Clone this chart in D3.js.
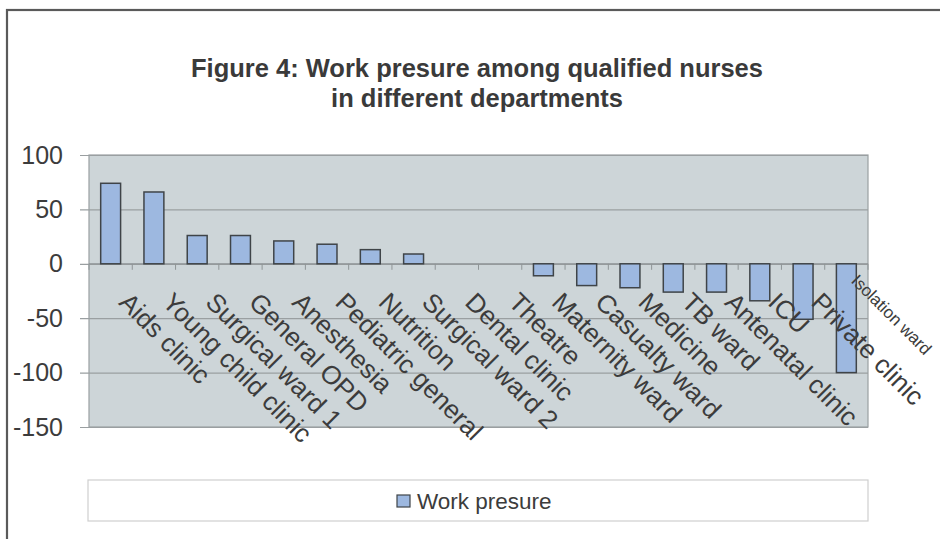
<!DOCTYPE html>
<html>
<head>
<meta charset="utf-8">
<script src="https://cdn.jsdelivr.net/npm/d3@7/dist/d3.min.js"></script>
<style>
  html, body { margin: 0; padding: 0; background: #ffffff; }
  svg { display: block; }
  text { font-family: "Liberation Sans", Arial, sans-serif; fill: #3c3c3c; }
</style>
</head>
<body>
<svg id="chart" width="940" height="539"></svg>
<script>
const titleLines = ["Figure 4: Work presure among qualified nurses", "in different departments"];
const categories = ["Aids clinic", "Young child clinic", "Surgical ward 1", "General OPD", "Anesthesia",
  "Pediatric general", "Nutrition", "Surgical ward 2", "Dental clinic", "Theatre", "Maternity ward",
  "Casualty ward", "Medicine", "TB ward", "Antenatal clinic", "ICU", "Private clinic", "Isolation ward"];
const values = [74, 66, 26, 26, 21, 18, 13, 9, 0, 0, -11, -20, -22, -26, -26, -34, -51, -100];
const yTicks = [100, 50, 0, -50, -100, -150];
const seriesName = "Work presure";

const svg = d3.select("#chart");

// outer frame
svg.append("rect").attr("x", 7).attr("y", 10).attr("width", 960).attr("height", 560)
  .attr("fill", "#ffffff").attr("stroke", "#5a5a5a").attr("stroke-width", 2.2);

// title
const title = svg.append("text").attr("text-anchor", "middle")
  .style("font-size", "25.5px").style("font-weight", "bold").style("fill", "#3a3a3a");
titleLines.forEach((t, i) => {
  title.append("tspan").attr("x", 477).attr("y", 77 + i * 30).text(t);
});

const pL = 89, pR = 868, pT = 155, pB = 427;
const x = d3.scaleBand().domain(categories).range([pL, pR]).paddingInner(0.54).paddingOuter(0.27);
const y = d3.scaleLinear().domain([-150, 100]).range([pB, pT]);

// plot background
svg.append("rect").attr("x", pL).attr("y", pT).attr("width", pR - pL).attr("height", pB - pT)
  .attr("fill", "#cdd5d8").attr("stroke", "#9aa0a2").attr("stroke-width", 1.2);

// y axis with gridlines
const yAxis = d3.axisLeft(y).tickValues(yTicks).tickSize(-(pR - pL)).tickPadding(26)
  .tickFormat(d => String(d));
const yg = svg.append("g").attr("transform", `translate(${pL},0)`).call(yAxis);
yg.select(".domain").remove();
yg.selectAll(".tick line").attr("x1", -9).attr("stroke", "#9a9fa1").attr("stroke-width", 1.2);
yg.selectAll(".tick text").style("font-size", "25px").style("font-family", "Liberation Sans, Arial, sans-serif")
  .style("fill", "#3c3c3c").attr("x", -26);

// category axis at zero
const step = x.step();
const xAxisG = svg.append("g");
xAxisG.append("line").attr("x1", pL).attr("x2", pR).attr("y1", y(0)).attr("y2", y(0))
  .attr("stroke", "#8f9597").attr("stroke-width", 1.2);
d3.range(categories.length + 1).forEach(k => {
  xAxisG.append("line").attr("x1", pL + k * step).attr("x2", pL + k * step)
    .attr("y1", y(0)).attr("y2", y(0) + 6).attr("stroke", "#8f9597").attr("stroke-width", 1);
});

// bars
svg.append("g").selectAll("rect").data(values.map((v, i) => ({ v, c: categories[i] })).filter(d => d.v !== 0))
  .join("rect")
  .attr("x", d => x(d.c))
  .attr("width", x.bandwidth())
  .attr("y", d => y(Math.max(0, d.v)))
  .attr("height", d => Math.abs(y(d.v) - y(0)))
  .attr("fill", "#9db8e0").attr("stroke", "#3f4448").attr("stroke-width", 1.5);

// rotated category labels
const last = categories.length - 1;
svg.append("g").selectAll("text").data(categories).join("text")
  .attr("transform", (d, i) => {
    const cx = x(d) + x.bandwidth() / 2;
    return i === last ? `translate(${cx + 4},${y(0) + 18}) rotate(45)`
                      : `translate(${cx + 7},${y(0) + 40}) rotate(45)`;
  })
  .attr("text-anchor", "start")
  .style("font-size", (d, i) => i === last ? "17px" : "26px")
  .text(d => d);

// legend
svg.append("rect").attr("x", 88).attr("y", 480).attr("width", 780).attr("height", 41)
  .attr("fill", "#ffffff").attr("stroke", "#cfcfcf").attr("stroke-width", 1.2);
svg.append("rect").attr("x", 397).attr("y", 495).attr("width", 13).attr("height", 12)
  .attr("fill", "#9db8e0").attr("stroke", "#3f4448").attr("stroke-width", 1.2);
svg.append("text").attr("x", 417).attr("y", 509).style("font-size", "22.5px").text(seriesName);
</script>
</body>
</html>
